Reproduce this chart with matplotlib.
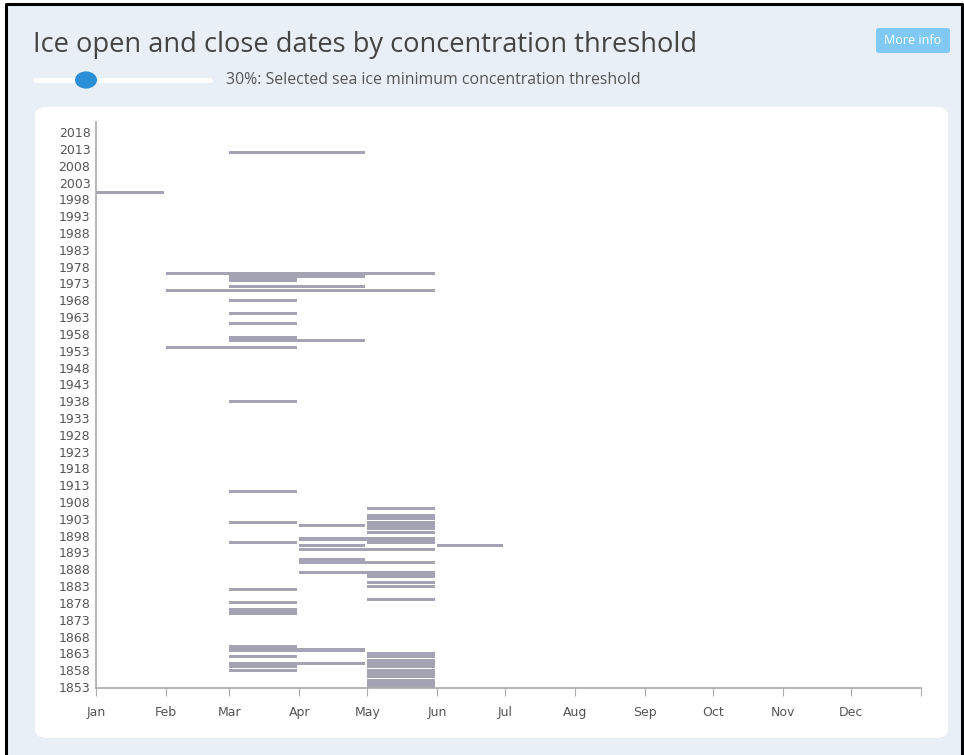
import numpy as np
import matplotlib.pyplot as plt
from matplotlib.patches import FancyBboxPatch, Rectangle, Circle

# segments: year, first month (1-12), month after last month
seg_year = [2012, 2000, 1976, 1975, 1974, 1972, 1971, 1968, 1964, 1961,
            1957, 1956, 1954, 1938, 1911, 1906,
            1904, 1903, 1902, 1901, 1900, 1899, 1902, 1901,
            1897, 1896, 1896, 1895, 1895, 1894, 1891, 1890, 1887, 1886,
            1884, 1883, 1882, 1879, 1878, 1876, 1875, 1865, 1864, 1862,
            1860, 1859, 1858,
            1863, 1862, 1861, 1860, 1859, 1858, 1857, 1856, 1855, 1854, 1853]
seg_start = [3, 1, 2, 3, 3, 3, 2, 3, 3, 3,
             3, 3, 2, 3, 3, 5,
             5, 5, 5, 5, 5, 5, 3, 4,
             4, 3, 5, 4, 6, 4, 4, 4, 4, 5,
             5, 5, 3, 5, 3, 3, 3, 3, 3, 3,
             3, 3, 3,
             5, 5, 5, 5, 5, 5, 5, 5, 5, 5, 5]
seg_end = [5, 2, 6, 5, 4, 5, 6, 4, 4, 4,
           4, 5, 4, 4, 4, 6,
           6, 6, 6, 6, 6, 6, 4, 5,
           6, 4, 6, 5, 7, 6, 5, 6, 6, 6,
           6, 6, 4, 6, 4, 4, 4, 4, 5, 4,
           5, 4, 4,
           6, 6, 6, 6, 6, 6, 6, 6, 6, 6, 6]

months = ['Jan', 'Feb', 'Mar', 'Apr', 'May', 'Jun',
          'Jul', 'Aug', 'Sep', 'Oct', 'Nov', 'Dec']
month_start = [0, 31, 59, 90, 120, 151, 181, 212, 243, 273, 304, 334, 365]
year_ticks = list(range(1853, 2019, 5))

plt.rcParams['font.family'] = ['Open Sans', 'DejaVu Sans']

W, H = 964, 755
fig = plt.figure(figsize=(W / 100, H / 100), dpi=100)
fig.patch.set_facecolor('white')


def fx(px):
    return px / W


def fy(py):
    return 1 - py / H


# outer panel with black frame
fig.patches.append(Rectangle((fx(6), 0), fx(956), fy(4),
                             transform=fig.transFigure, facecolor='#e8eff6',
                             edgecolor='none', zorder=0))
fig.add_artist(plt.Line2D([fx(6), fx(6), fx(962), fx(962)],
                          [fy(755), fy(4), fy(4), fy(755)],
                          transform=fig.transFigure, color='black', lw=2.2))
# inner white card
fig.patches.append(FancyBboxPatch((fx(35), fy(738)), fx(913), fy(107) - fy(738),
                                  boxstyle='round,pad=0,rounding_size=0.012',
                                  transform=fig.transFigure, facecolor='white',
                                  edgecolor='none', zorder=1))

fig.text(fx(33), fy(45), 'Ice open and close dates by concentration threshold',
         fontsize=19.6, color='#444444', va='center', ha='left')

# slider
fig.add_artist(plt.Line2D([fx(35), fx(210)], [fy(80), fy(80)],
                          transform=fig.transFigure, color='white', lw=3.5,
                          solid_capstyle='round'))
fig.patches.append(Circle((fx(86), fy(80)), 11 / W, transform=fig.transFigure,
                          facecolor='#2b8fd8', edgecolor='none', zorder=3))
fig.text(fx(226), fy(80), '30%: Selected sea ice minimum concentration threshold',
         fontsize=11.4, color='#555555', va='center', ha='left')

# button
fig.patches.append(FancyBboxPatch((fx(876), fy(53)), fx(74), fy(28) - fy(53),
                                  boxstyle='round,pad=0,rounding_size=0.003',
                                  transform=fig.transFigure, facecolor='#80c9f4',
                                  edgecolor='none', zorder=2))
fig.text(fx(913), fy(40.5), 'More info', fontsize=9, color='white',
         va='center', ha='center', zorder=3)

ax = fig.add_axes([fx(96), fy(688), fx(921) - fx(96), fy(122) - fy(688)])
ax.set_facecolor('none')
ax.set_zorder(4)

left = [month_start[s - 1] for s in seg_start]
width = [month_start[e - 1] - month_start[s - 1] - 1 for s, e in zip(seg_start, seg_end)]
ax.barh(seg_year, width, left=left, height=0.93, color='#a3a3b3', edgecolor='none')

ax.set_xlim(0, 365)
ax.set_ylim(1852.7, 2021)
ax.set_xticks(month_start)
ax.set_xticklabels(months + [''], family='DejaVu Sans')
ax.set_yticks(year_ticks)
ax.set_yticklabels([str(y) for y in year_ticks], family='DejaVu Sans')
for s in ['top', 'right']:
    ax.spines[s].set_visible(False)
for s in ['left', 'bottom']:
    ax.spines[s].set_color('#aaaaaa')
    ax.spines[s].set_linewidth(1.2)
ax.tick_params(axis='x', length=6, color='#aaaaaa', labelsize=9,
               labelcolor='#555555', pad=7)
ax.tick_params(axis='y', length=0, labelsize=9, labelcolor='#555555', pad=4)

fig.savefig('out.png', dpi=100)
